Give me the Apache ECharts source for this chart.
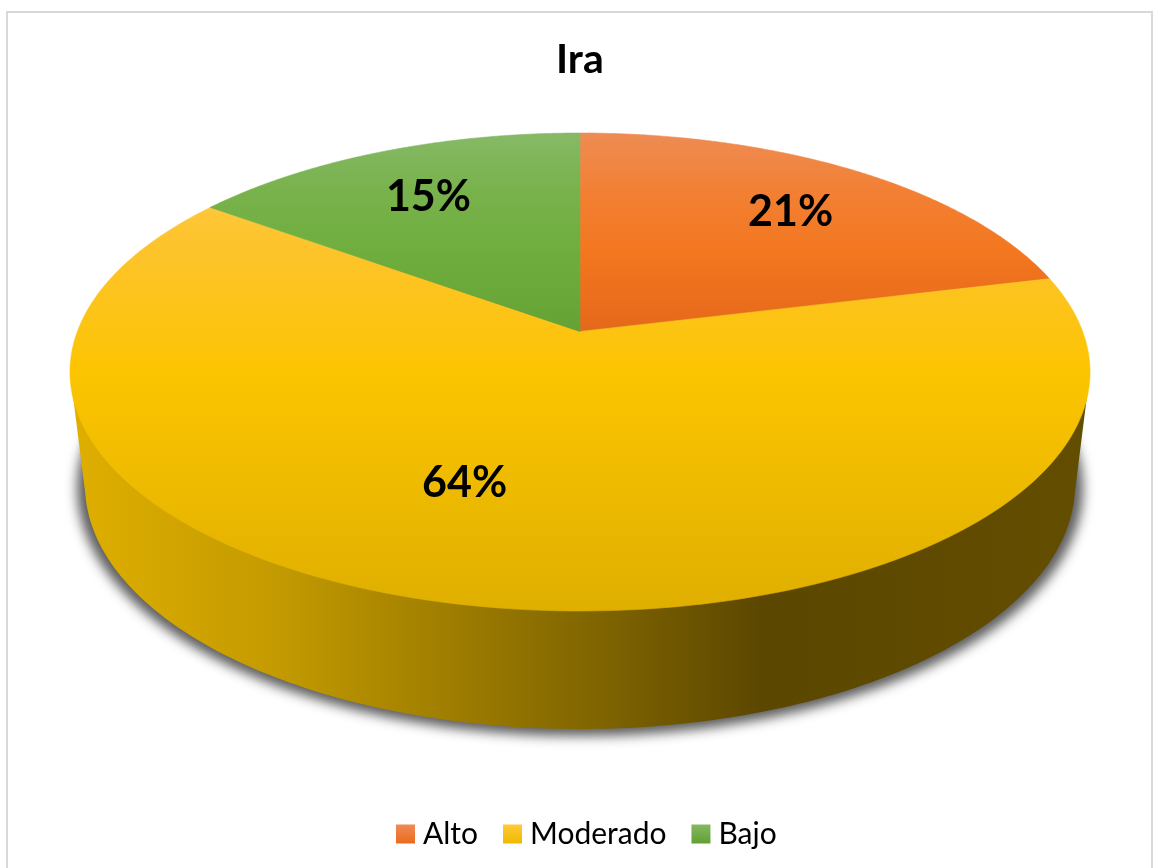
<!DOCTYPE html>
<html>
<head>
<meta charset="utf-8">
<style>html,body{margin:0;padding:0;background:#fff}#c{width:1153px;height:868px}</style>
<script src="https://cdn.jsdelivr.net/npm/echarts@6/dist/echarts.min.js"></script>
</head>
<body>
<div id="c"></div>
<script>
var titleText = 'Ira';
var categories = ['Alto', 'Moderado', 'Bajo'];
var seriesValues = [21.2, 63.8, 15];

// Look: vertical gradient per slice
var stopOffsets = [0, 0.12, 0.25, 0.42, 0.5, 1];
var sliceStops = [
  ['#ee8c54', '#f28034', '#f3771f', '#e4681a', '#e0640f', '#d85e10'],
  ['#ffca45', '#ffc93e', '#fdc32a', '#fcc410', '#fcc500', '#dfaf00'],
  ['#86b966', '#78b24c', '#6fae3e', '#63a234', '#60a030', '#5f9c30']
];
var legendStops = [
  ['#f08a55', '#ea6c1c'],
  ['#ffca38', '#eeb900'],
  ['#84b862', '#62a032']
];
// Layout: pie projection
var CX = 580, APEX_Y = 331.5, TOP_Y = 133, BOTTOM_Y = 611, HALF_W = 510;
var K = -((BOTTOM_Y - APEX_Y) - (APEX_Y - TOP_Y)) / ((BOTTOM_Y - APEX_Y) + (APEX_Y - TOP_Y));
var B = (BOTTOM_Y - APEX_Y) * (1 + K);
var A = HALF_W * Math.sqrt(1 - K * K);
var BASE = {cx: 580, cy: 485, rx: 495, ry: 244};
var SHADOW = {cx: 580, cy: 488, rx: 503, ry: 248};
var SHADOW_THROW = 3000;
var labelRadius = [0.73, 0.6, 0.73];
var labelShiftX = [4, -50.5, -1.5];
var labelShiftY = [2, 0, 2];

function project(r, deg) {
  var a = deg * Math.PI / 180, u = r * Math.sin(a), v = -r * Math.cos(a), d = 1 + K * v;
  return [CX + A * u / d, APEX_Y + B * v / d];
}
function total() { return seriesValues.reduce(function (s, v) { return s + v; }, 0); }
function startAngle(i) {
  var s = 0;
  for (var k = 0; k < i; k++) s += seriesValues[k];
  return s / total() * 360;
}
function sliceFill(i) {
  return {type: 'linear', x: 0, y: TOP_Y, x2: 0, y2: BOTTOM_Y, global: true,
    colorStops: stopOffsets.map(function (o, k) { return {offset: o, color: sliceStops[i][k]}; })};
}
function sliceSeries(i) {
  return {
    type: 'custom', name: categories[i], coordinateSystem: 'none', silent: true, clip: false, z: 3,
    itemStyle: {color: {type: 'linear', x: 0, y: 0, x2: 0, y2: 1,
      colorStops: [{offset: 0, color: legendStops[i][0]}, {offset: 1, color: legendStops[i][1]}]}},
    data: [[seriesValues[i]]],
    renderItem: function (params, api) {
      var a0 = startAngle(i), sweep = api.value(0) / total() * 360;
      var pts = [[CX, APEX_Y]];
      for (var t = 0; t <= 180; t++) pts.push(project(1, a0 + sweep * t / 180));
      var mid = project(labelRadius[i], a0 + sweep / 2);
      var fill = sliceFill(i);
      return {
        type: 'group',
        children: [
          {type: 'polygon', shape: {points: pts}, style: {fill: fill, stroke: fill, lineWidth: 0.6}},
          {type: 'text', z2: 10, x: mid[0] + labelShiftX[i], y: mid[1] + labelShiftY[i],
            style: {text: Math.round(api.value(0)) + '%', fill: '#000', font: 'bold 43px Lato', align: 'center', verticalAlign: 'middle'}}
        ]
      };
    }
  };
}
function ellipsePoints(e, dx) {
  var out = [];
  for (var t = 0; t < 360; t += 2) {
    var a = t * Math.PI / 180;
    out.push([e.cx + dx + e.rx * Math.cos(a), e.cy + e.ry * Math.sin(a)]);
  }
  return out;
}
var wallSeries = {
  type: 'custom', name: 'wall', coordinateSystem: 'none', silent: true, clip: false, z: 1,
  data: [[0]],
  renderItem: function () {
    var pts = [[CX - HALF_W, 372]];
    for (var t = 178; t >= 2; t--) {
      var a = t * Math.PI / 180;
      pts.push([BASE.cx + BASE.rx * Math.cos(a), BASE.cy + BASE.ry * Math.sin(a)]);
    }
    pts.push([CX + HALF_W, 372]);
    return {
      type: 'group',
      children: [
        {type: 'polygon', z2: 1, shape: {points: ellipsePoints(SHADOW, -SHADOW_THROW)},
          style: {fill: '#000', shadowBlur: 12, shadowColor: 'rgba(75,75,75,0.9)', shadowOffsetX: SHADOW_THROW}},
        {type: 'polygon', z2: 2, shape: {points: pts},
          style: {
            fill: {type: 'linear', x: 75, y: 0, x2: 1085, y2: 0, global: true, colorStops: [
              {offset: 0, color: '#dfae00'},
              {offset: 0.2, color: '#c39a00'},
              {offset: 0.35, color: '#a38100'},
              {offset: 0.52, color: '#7f6400'},
              {offset: 0.68, color: '#5c4700'},
              {offset: 1, color: '#624d00'}
            ]}
          }}
      ]
    };
  }
};

var chart = echarts.init(document.getElementById('c'), null, {renderer: 'canvas', width: 1153, height: 868});
chart.setOption({
  animation: false,
  backgroundColor: '#fff',
  title: {text: titleText, left: 556, top: 39, padding: 0,
    textStyle: {fontFamily: 'Lato', fontWeight: 'bold', fontSize: 41, color: '#000'}},
  legend: {
    left: 396, top: 819, icon: 'rect', itemWidth: 19, itemHeight: 19, itemGap: 25, padding: 0,
    data: categories,
    textStyle: {fontFamily: 'Lato', fontSize: 30, color: '#000', padding: [0, 0, 0, 3]},
    formatter: function (n) { return n; }
  },
  graphic: [{type: 'rect', z: 0, shape: {x: 7, y: 12, width: 1145, height: 880}, style: {fill: 'none', stroke: '#d9d9d9', lineWidth: 2}}],
  series: [wallSeries].concat(categories.map(function (c, i) { return sliceSeries(i); }))
});
</script>
</body>
</html>
